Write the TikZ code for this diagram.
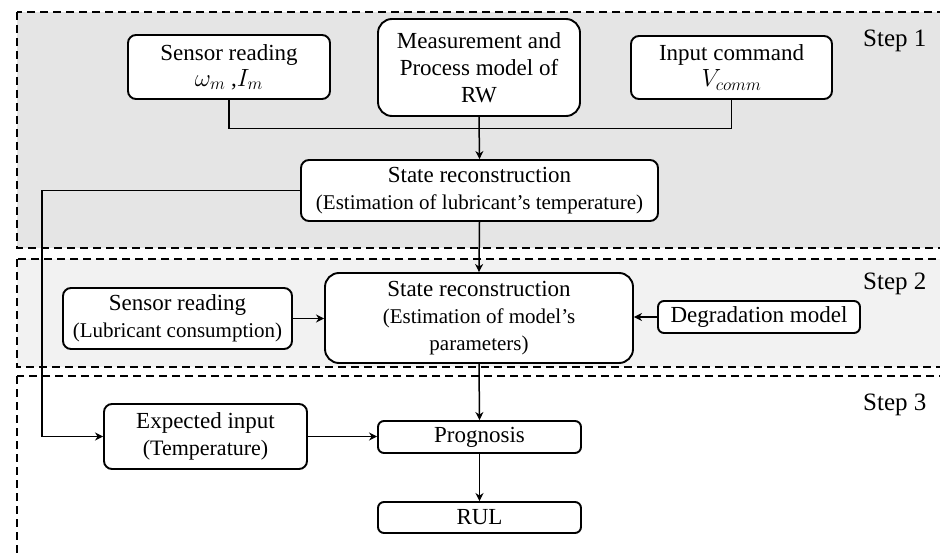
\documentclass[tikz,border=0pt]{standalone}
\usepackage{fontspec}
\setmainfont{Liberation Serif}
\usetikzlibrary{arrows.meta}
\begin{document}
\begin{tikzpicture}[x=1pt,y=-1pt,
  box/.style={draw,line width=1.9pt,rounded corners=8pt,fill=white,align=center,
    inner sep=0pt,font=\fontsize{23}{27}\selectfont},
  bigbox/.style={box,rounded corners=14pt},
  link/.style={line width=1.5pt},
  arr/.style={link,-{Stealth[length=8pt,width=8pt,inset=2.5pt]}},
  stage/.style={draw,dash pattern=on 8pt off 5pt,line width=1.8pt},
  steplabel/.style={anchor=base west,inner sep=0pt,font=\fontsize{25}{30}\selectfont}]
\useasboundingbox (0,0) rectangle (940,556);
\clip (0,0) rectangle (940,556);

% three dashed stages
\draw[stage,fill=gray!20] (17,12) rectangle (960,248);
\draw[stage,fill=gray!10] (17,259) rectangle (960,367);
\draw[stage] (17,376) rectangle (960,600);
\node[steplabel] (s1) at (863,47) {Step 1};
\node[steplabel] (s2) at (863,290) {Step 2};
\node[steplabel] (s3) at (863,410) {Step 3};

% step 1
\node[box,minimum width=202pt,minimum height=64pt] (sr1) at (229,67)
  {Sensor reading\\[-1pt]$\omega_m$ ,$I_m$};
\node[bigbox,minimum width=202pt,minimum height=97pt] (mp) at (479,67.5)
  {Measurement and\\Process model of\\RW};
\node[box,minimum width=201pt,minimum height=63pt] (ic) at (731.5,67.5)
  {Input command\\[-1pt]$V_{comm}$};
\node[box,minimum width=357pt,minimum height=61pt] (st1) at (479.5,190.5)
  {State reconstruction\\{\fontsize{21}{26}\selectfont(Estimation of lubricant’s temperature)}};

% step 2
\node[box,minimum width=229pt,minimum height=61pt] (sr2) at (177.5,318.5)
  {Sensor reading\\{\fontsize{21}{26}\selectfont(Lubricant consumption)}};
\node[bigbox,minimum width=308pt,minimum height=90pt] (st2) at (479,318)
  {State reconstruction\\{\fontsize{21}{26}\selectfont(Estimation of model’s}\\{\fontsize{21}{26}\selectfont parameters)}};
\node[box,minimum width=202pt,minimum height=32pt,rounded corners=6pt] (dm) at (759,317)
  {Degradation model};

% step 3
\node[box,minimum width=203pt,minimum height=65pt] (ei) at (205.5,436.5)
  {Expected input\\{\fontsize{22}{26}\selectfont(Temperature)}};
\node[box,minimum width=203pt,minimum height=32pt,rounded corners=6pt] (pg) at (479.5,437)
  {Prognosis};
\node[box,minimum width=203pt,minimum height=31pt,rounded corners=6pt] (rul) at (479.5,517.5)
  {RUL};

% connectors
\coordinate (join) at (479,128.5);
\coordinate (tbend) at (42,190.5);
\draw[link] (sr1.south) |- (join) -| (ic.south);
\draw[arr] (mp.south) -- (st1.north);
\draw[arr] (st1.west) -- (tbend) |- (ei.west);
\draw[arr] (st1.south) -- (st2.north);
\draw[arr] (sr2.east) -- (sr2.east -| st2.west);
\draw[arr] (dm.west) -- (dm.west -| st2.east);
\draw[arr] (st2.south) -- (pg.north);
\draw[arr] (ei.east) -- (ei.east -| pg.west);
\draw[arr] (pg.south) -- (rul.north);
\end{tikzpicture}
\end{document}
